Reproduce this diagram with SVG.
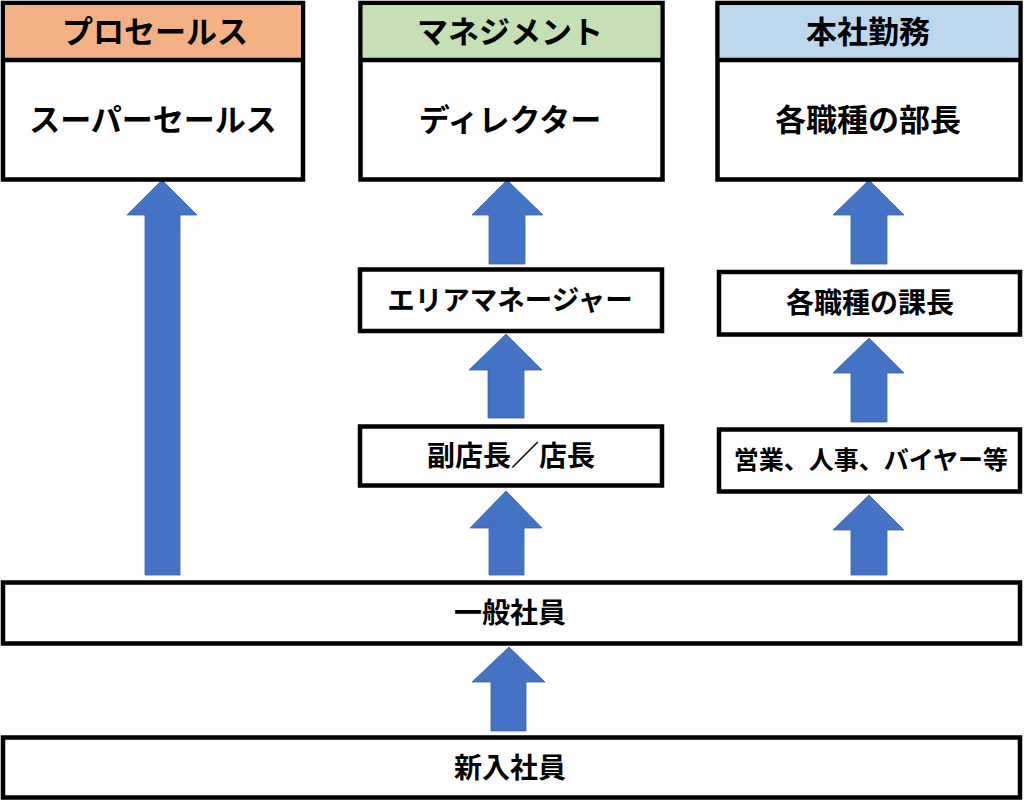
<svg xmlns="http://www.w3.org/2000/svg" width="1024" height="801" viewBox="0 0 1024 801">
<style>
.box{fill:#fff;stroke:#000;stroke-width:4.5}
.ln{stroke:#000;stroke-width:4.5}
.arr{fill:#4472C4;stroke:#3a62aa;stroke-width:0.8}
.t{font-family:"Noto Sans CJK JP","Noto Sans CJK SC",sans-serif;font-weight:bold;fill:#000;text-anchor:middle}
.big{font-size:31px}
.mid{font-size:28px}
.sm{font-size:25px}
</style>
<rect width="1024" height="801" fill="#fff"/>
<g id="connectors">
<path class="arr" d="M162,180 L197,215 L180,215 L180,575 L145,575 L145,215 L127,215 Z"/>
<path class="arr" d="M507,180 L543,215 L525,215 L525,264 L489,264 L489,215 L472,215 Z"/>
<path class="arr" d="M506,334 L542,370 L524,370 L524,418 L488,418 L488,370 L469,370 Z"/>
<path class="arr" d="M506,491 L542,528 L524,528 L524,575 L489,575 L489,528 L470,528 Z"/>
<path class="arr" d="M869,180 L904,215 L887,215 L887,264 L851,264 L851,215 L833,215 Z"/>
<path class="arr" d="M869,338 L904,373 L887,373 L887,422 L851,422 L851,373 L833,373 Z"/>
<path class="arr" d="M869,495 L904,530 L887,530 L887,575 L851,575 L851,530 L833,530 Z"/>
<path class="arr" d="M509,647 L545,682 L526,682 L526,731 L491,731 L491,682 L472,682 Z"/>
</g>
<g id="col-prosales">
<rect class="box" x="3" y="3" width="300" height="176.5"/>
<rect x="5.25" y="5.25" width="295.5" height="54.75" fill="#F4B183"/>
<line class="ln" x1="3" y1="60" x2="303" y2="60"/>
<text class="t big" x="155" y="43">プロセールス</text>
<text class="t big" x="153" y="131">スーパーセールス</text>
</g>
<g id="col-management">
<rect class="box" x="360.5" y="3" width="302" height="176.5"/>
<rect x="362.75" y="5.25" width="297.5" height="54.75" fill="#C5E0B4"/>
<line class="ln" x1="360.5" y1="60" x2="662.5" y2="60"/>
<text class="t big" x="510" y="43">マネジメント</text>
<text class="t big" x="510" y="131">ディレクター</text>
</g>
<g id="col-honsha">
<rect class="box" x="717.5" y="3" width="303" height="176.5"/>
<rect x="719.75" y="5.25" width="298.5" height="54.75" fill="#BDD7EE"/>
<line class="ln" x1="717.5" y1="60" x2="1020.5" y2="60"/>
<text class="t big" x="868" y="43">本社勤務</text>
<text class="t big" x="868" y="131">各職種の部長</text>
</g>
<g id="area-manager">
<rect class="box" x="360" y="269.5" width="302" height="61.5"/>
<text class="t" style="font-size:27.5px" x="510" y="310">エリアマネージャー</text>
</g>
<g id="store-manager">
<rect class="box" x="360" y="426.5" width="302" height="59"/>
<text class="t mid" x="511" y="466">副店長／店長</text>
</g>
<g id="section-chief">
<rect class="box" x="719" y="272" width="301" height="62.5"/>
<text class="t mid" x="870" y="313">各職種の課長</text>
</g>
<g id="staff-roles">
<rect class="box" x="719" y="429.5" width="301" height="62"/>
<text class="t sm" x="871" y="469">営業、人事、バイヤー等</text>
</g>
<g id="general-staff">
<rect class="box" x="3" y="582.5" width="1017" height="61"/>
<text class="t mid" x="510" y="623">一般社員</text>
</g>
<g id="new-staff">
<rect class="box" x="3" y="737.5" width="1017" height="60"/>
<text class="t mid" x="510" y="778">新入社員</text>
</g>
</svg>
